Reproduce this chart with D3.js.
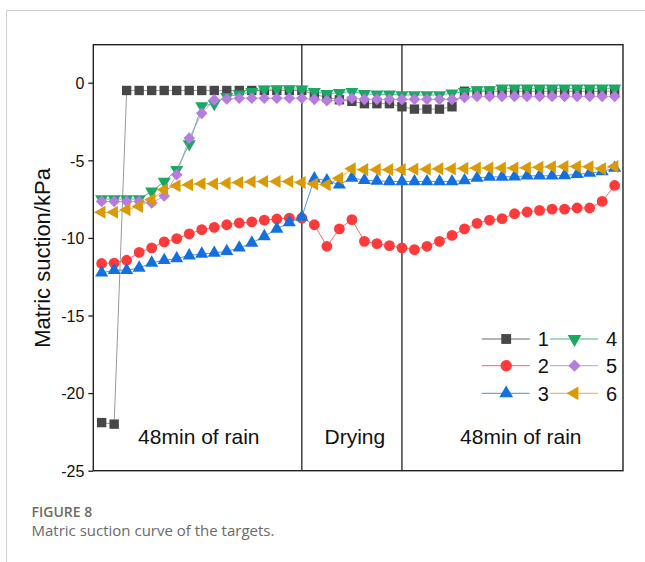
<!DOCTYPE html>
<html><head><meta charset="utf-8">
<script src="https://cdn.jsdelivr.net/npm/d3@7"></script>
<style>body{margin:0;background:#fff}svg{display:block}</style>
</head><body>
<svg id="c" width="645" height="562"></svg>
<script>
// time in minutes (3-min readings)
const times = d3.range(42).map(i => i * 3);
const s1 = [-21.9,-22.0,-0.5,-0.5,-0.5,-0.5,-0.5,-0.5,-0.5,-0.5,-0.5,-0.5,-0.5,-0.5,-0.5,-0.5,-0.5,
  -0.75,-0.95,-1.1,-1.2,-1.35,-1.35,-1.35,-1.55,-1.7,-1.7,-1.7,-1.55,
  -0.55,-0.55,-0.55,-0.55,-0.55,-0.55,-0.55,-0.55,-0.55,-0.55,-0.55,-0.55,-0.55];
const s2 = [-11.65,-11.62,-11.44,-10.93,-10.64,-10.26,-10.05,-9.74,-9.47,-9.32,-9.15,-9.04,-8.97,-8.85,-8.78,-8.72,-8.72,
  -9.15,-10.54,-9.42,-8.82,-10.22,-10.37,-10.5,-10.64,-10.75,-10.54,-10.22,-9.84,-9.42,-9.06,-8.85,-8.76,-8.44,-8.33,-8.23,-8.14,-8.14,-8.07,-8.07,-7.65,-6.62];
const s3 = [-12.25,-12.08,-12.08,-11.93,-11.61,-11.44,-11.33,-11.14,-11.03,-10.97,-10.86,-10.64,-10.32,-9.9,-9.42,-9.0,-8.65,
  -6.18,-6.3,-6.57,-6.14,-6.28,-6.33,-6.36,-6.36,-6.36,-6.36,-6.36,-6.36,-6.3,-6.14,-6.07,-6.07,-6.05,-6.0,-6.0,-6.0,-5.97,-5.9,-5.82,-5.72,-5.5];
const s4 = [-7.5,-7.5,-7.5,-7.5,-7.0,-6.36,-5.61,-3.95,-1.5,-1.35,-0.9,-0.75,-0.58,-0.42,-0.4,-0.4,-0.42,
  -0.58,-0.72,-0.64,-0.58,-0.72,-0.75,-0.75,-0.79,-0.79,-0.79,-0.79,-0.68,-0.58,-0.47,-0.47,-0.36,-0.36,-0.36,-0.36,-0.36,-0.36,-0.36,-0.36,-0.36,-0.36];
const s5 = [-7.65,-7.65,-7.65,-7.65,-7.75,-7.3,-5.93,-3.57,-1.97,-1.11,-1.05,-1.0,-1.0,-1.0,-1.0,-1.0,-1.0,
  -1.07,-1.15,-1.15,-1.0,-1.07,-1.07,-1.07,-1.07,-1.07,-1.07,-1.07,-1.07,-0.95,-0.88,-0.88,-0.88,-0.88,-0.88,-0.88,-0.88,-0.88,-0.88,-0.88,-0.88,-0.88];
const s6 = [-8.35,-8.35,-8.18,-7.97,-7.54,-6.9,-6.64,-6.57,-6.51,-6.51,-6.47,-6.43,-6.38,-6.36,-6.36,-6.36,-6.43,
  -6.53,-6.57,-6.15,-5.55,-5.6,-5.6,-5.6,-5.6,-5.58,-5.58,-5.55,-5.55,-5.52,-5.5,-5.5,-5.5,-5.5,-5.48,-5.45,-5.42,-5.4,-5.4,-5.42,-5.55,-5.4];
const seriesNames = ["1","2","3","4","5","6"];
const yTicks = [0,-5,-10,-15,-20,-25];
const phaseBounds = [48, 72];
const phaseLabels = [{t:23.3,text:"48min of rain"},{t:60.7,text:"Drying"},{t:100.5,text:"48min of rain"}];

const colors = ["#474747","#FF3A3A","#1370E0","#1BA862","#B77CDF","#D99A05"];
const symbols = [
  {type:d3.symbolSquare,size:88,rot:0},
  {type:d3.symbolCircle,size:92,rot:0},
  {type:d3.symbolTriangle,size:74,rot:0},
  {type:d3.symbolTriangle,size:74,rot:180},
  {type:d3.symbolSquare,size:68,rot:45},
  {type:d3.symbolTriangle,size:74,rot:-90}
];
const allSeries = [s1,s2,s3,s4,s5,s6];

const svg = d3.select("#c");
const font = "Arial, 'Liberation Sans', sans-serif";
const L=93.3, R=623, T=44.7, B=470.7;
const x = d3.scaleLinear().domain([-2,125]).range([L,R]);
const y = d3.scaleLinear().domain([-25,2.45]).range([B,T]);

// page frame
svg.append("line").attr("x1",6.5).attr("x2",645).attr("y1",10.5).attr("y2",10.5).attr("stroke","#d0d0d0");
svg.append("line").attr("x1",6.5).attr("x2",6.5).attr("y1",10.5).attr("y2",562).attr("stroke","#d0d0d0");

// y axis
const yAxis = d3.axisLeft(y).tickValues(yTicks).tickSize(5).tickPadding(4).tickFormat(d3.format("d"));
const ga = svg.append("g").attr("transform",`translate(${L},0)`).call(yAxis);
ga.select(".domain").remove();
ga.selectAll(".tick line").attr("stroke","#222").attr("stroke-width",1.3);
ga.selectAll(".tick text").attr("font-family",font).attr("font-size",16).attr("fill","#111").attr("dy","0.36em")
  .text(d => d < 0 ? "-" + Math.abs(d) : d);

// phase boundaries
svg.selectAll(".pb").data(phaseBounds).enter().append("line")
  .attr("x1",d=>x(d)).attr("x2",d=>x(d)).attr("y1",T).attr("y2",B)
  .attr("stroke","#222").attr("stroke-width",1.3);

// plot frame
svg.append("rect").attr("x",L).attr("y",T).attr("width",R-L).attr("height",B-T)
  .attr("fill","none").attr("stroke","#222").attr("stroke-width",1.4);

// phase labels
svg.selectAll(".pl").data(phaseLabels).enter().append("text")
  .attr("x",d=>x(d.t)).attr("y",443.5).attr("text-anchor","middle")
  .attr("font-family",font).attr("font-size",21).attr("fill","#111").text(d=>d.text);

// series
const line = d3.line().x((d,i)=>x(times[i])).y(d=>y(d));
allSeries.forEach((s,k)=>{
  const g = svg.append("g");
  g.append("path").datum(s).attr("d",line).attr("fill","none")
    .attr("stroke",colors[k]).attr("stroke-width",1).attr("stroke-opacity",k===0?0.55:0.75);
  g.selectAll("path.m").data(s).enter().append("path").attr("class","m")
    .attr("d",d3.symbol().type(symbols[k].type).size(symbols[k].size))
    .attr("transform",(d,i)=>`translate(${x(times[i])},${y(d)}) rotate(${symbols[k].rot})`)
    .attr("fill",colors[k]);
});

// legend
const legCols = [481.7, 550];
const legRows = [339, 365.7, 393.3];
seriesNames.forEach((n,k)=>{
  const cx = legCols[Math.floor(k/3)], cy = legRows[k%3];
  svg.append("line").attr("x1",cx).attr("x2",cx+48).attr("y1",cy).attr("y2",cy)
    .attr("stroke",colors[k]).attr("stroke-width",1).attr("stroke-opacity",0.8);
  svg.append("path").attr("d",d3.symbol().type(symbols[k].type).size(symbols[k].size*1.1))
    .attr("transform",`translate(${cx+24.5},${cy}) rotate(${symbols[k].rot})`).attr("fill",colors[k]);
  svg.append("text").attr("x",cx+56).attr("y",cy).attr("dy","0.36em")
    .attr("font-family",font).attr("font-size",20).attr("fill","#111").text(n);
});

// y title
svg.append("text").attr("transform","translate(50,258) rotate(-90)").attr("text-anchor","middle")
  .attr("font-family",font).attr("font-size",22).attr("fill","#111").text("Matric suction/kPa");

// caption
svg.append("text").attr("x",31.5).attr("y",516.5).attr("font-family","'Open Sans', sans-serif")
  .attr("font-size",14).attr("font-weight",600).attr("fill","#6a6a6a").text("FIGURE 8");
svg.append("text").attr("x",31.5).attr("y",536).attr("font-family","'Open Sans', sans-serif")
  .attr("font-size",15).attr("fill","#6a6a6a").text("Matric suction curve of the targets.");
</script>
</body></html>
